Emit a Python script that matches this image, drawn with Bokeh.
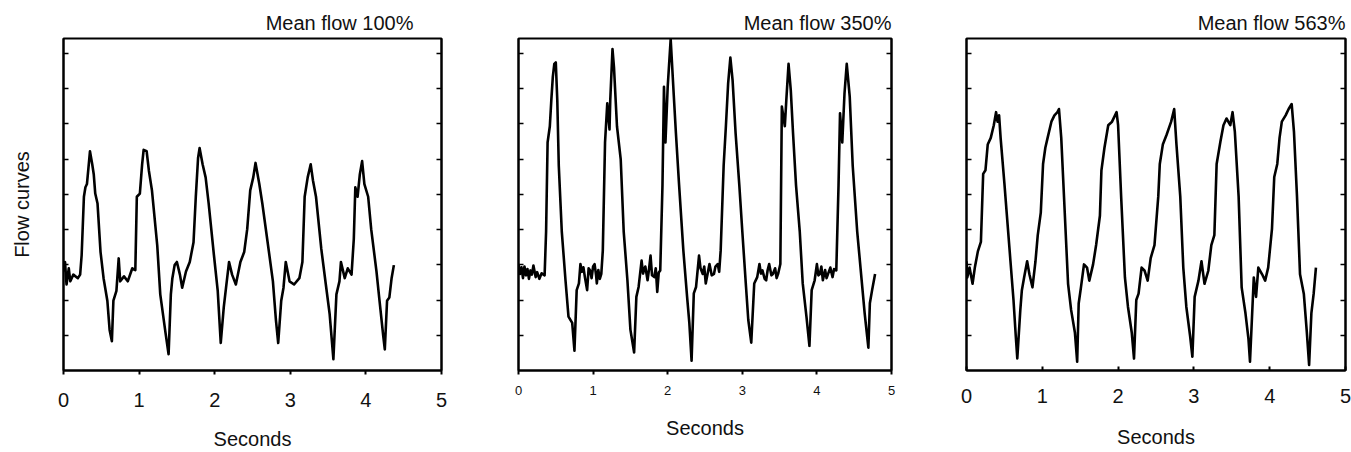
from bokeh.plotting import figure
from bokeh.models import Range1d, LinearAxis, FixedTicker
from bokeh.layouts import row
from bokeh.embed import file_html
from bokeh.resources import INLINE

# ---------------- data ----------------
titles = ["Mean flow 100%", "Mean flow 350%", "Mean flow 563%"]
x_ticks = [0, 1, 2, 3, 4, 5]
y_ticks = [1, 2, 3, 4, 5, 6, 7, 8, 9]

t1 = [0.00, 0.02, 0.04, 0.07, 0.09, 0.13, 0.19, 0.22, 0.24, 0.27, 0.29, 0.31, 0.33, 0.35, 0.38, 0.40,
      0.42, 0.45, 0.49, 0.53, 0.58, 0.61, 0.64, 0.66, 0.70, 0.73, 0.75, 0.80, 0.85, 0.91, 0.95, 0.97,
      1.01, 1.04, 1.06, 1.10, 1.13, 1.17, 1.24, 1.28, 1.35, 1.39, 1.42, 1.44, 1.47, 1.50, 1.54, 1.57,
      1.62, 1.67, 1.72, 1.75, 1.78, 1.80, 1.84, 1.88, 1.92, 1.99, 2.04, 2.08, 2.12, 2.15, 2.19, 2.23,
      2.28, 2.34, 2.39, 2.43, 2.47, 2.51, 2.54, 2.59, 2.63, 2.70, 2.77, 2.81, 2.84, 2.88, 2.91, 2.94,
      2.99, 3.05, 3.12, 3.16, 3.19, 3.23, 3.27, 3.30, 3.34, 3.41, 3.47, 3.52, 3.57, 3.61, 3.65, 3.67,
      3.72, 3.76, 3.81, 3.84, 3.86, 3.89, 3.92, 3.95, 3.98, 4.03, 4.07, 4.14, 4.18, 4.23, 4.25, 4.28,
      4.31, 4.34, 4.37]
y1 = [2.81, 3.08, 2.44, 2.90, 2.53, 2.72, 2.62, 2.72, 3.27, 4.93, 5.20, 5.29, 5.75, 6.22, 5.85, 5.57,
      5.02, 4.74, 3.36, 2.62, 1.98, 1.15, 0.83, 1.98, 2.26, 3.18, 2.53, 2.67, 2.53, 2.90, 2.85, 4.93,
      5.02, 5.85, 6.26, 6.22, 5.66, 5.11, 3.55, 2.16, 1.06, 0.46, 2.16, 2.62, 2.99, 3.08, 2.72, 2.35,
      2.81, 3.08, 3.64, 4.93, 6.03, 6.31, 5.85, 5.48, 4.74, 3.27, 2.26, 0.78, 1.80, 2.35, 3.08, 2.72,
      2.44, 3.08, 3.36, 4.01, 5.11, 5.48, 5.89, 5.29, 4.74, 3.64, 2.53, 1.43, 0.78, 1.98, 2.35, 3.08,
      2.53, 2.44, 2.62, 3.08, 4.93, 5.48, 5.85, 5.39, 4.93, 3.45, 2.44, 1.61, 0.32, 2.16, 2.53, 3.08,
      2.62, 2.90, 2.72, 3.73, 5.20, 4.93, 5.57, 5.94, 5.29, 4.93, 4.01, 2.81, 1.98, 0.97, 0.60, 1.98,
      2.07, 2.62, 2.99]

t2 = [0.00, 0.02, 0.04, 0.06, 0.08, 0.10, 0.12, 0.14, 0.16, 0.18, 0.20, 0.23, 0.25, 0.28, 0.31, 0.35,
      0.37, 0.39, 0.42, 0.44, 0.46, 0.48, 0.50, 0.52, 0.54, 0.58, 0.63, 0.67, 0.72, 0.75, 0.78, 0.81,
      0.83, 0.85, 0.87, 0.89, 0.92, 0.94, 0.96, 0.98, 1.00, 1.02, 1.04, 1.05, 1.07, 1.09, 1.11,
      1.13, 1.16, 1.19, 1.22, 1.23, 1.26, 1.28, 1.32, 1.37, 1.41, 1.46, 1.50, 1.55, 1.58, 1.61,
      1.65, 1.67, 1.68, 1.70, 1.73, 1.75, 1.77, 1.79, 1.82, 1.84, 1.86, 1.88, 1.90,
      1.93, 1.95, 1.97, 2.00, 2.04, 2.08, 2.11, 2.15, 2.21, 2.26, 2.29, 2.32, 2.35, 2.38, 2.42,
      2.44, 2.47, 2.49, 2.51, 2.54, 2.56, 2.59, 2.62, 2.64, 2.67, 2.69, 2.71,
      2.75, 2.78, 2.81, 2.84, 2.87, 2.91, 2.96, 3.00, 3.05, 3.08, 3.12, 3.16,
      3.20, 3.23, 3.25, 3.27, 3.30, 3.32, 3.34, 3.36, 3.39, 3.41, 3.44, 3.46, 3.48, 3.51,
      3.53, 3.57, 3.59, 3.62, 3.65, 3.68, 3.72, 3.77, 3.81, 3.86, 3.90, 3.93,
      3.97, 4.00, 4.02, 4.04, 4.06, 4.08, 4.11, 4.13, 4.15, 4.18, 4.21, 4.23, 4.26,
      4.29, 4.31, 4.34, 4.37, 4.40, 4.44, 4.48, 4.54, 4.60, 4.64, 4.69, 4.71, 4.74, 4.78]
y2 = [3.02, 2.74, 2.93, 2.62, 2.95, 2.70, 2.88, 2.60, 2.84, 2.72, 2.98, 2.65, 2.79, 2.60, 2.76, 2.70,
      3.95, 6.47, 6.93, 7.67, 8.33, 8.70, 8.74, 7.67, 5.81, 3.95, 2.56, 1.53, 1.35, 0.56, 2.28, 2.47,
      3.02, 2.80, 2.93, 2.65, 2.28, 2.90, 2.84, 2.62, 2.95, 3.02, 2.70, 2.47, 2.85, 2.60, 2.74,
      3.40, 6.47, 7.58, 6.84, 7.67, 9.12, 8.60, 6.93, 6.00, 3.95, 2.56, 1.16, 0.51, 2.09, 2.37,
      3.12, 2.75, 2.84, 2.95, 2.56, 2.88, 3.26, 2.70, 2.65, 2.90, 2.23, 2.78, 2.84,
      5.26, 8.05, 6.47, 8.05, 9.40, 7.86, 6.74, 5.35, 3.40, 2.09, 1.35, 0.28, 2.19, 2.37, 3.26,
      2.90, 2.74, 2.95, 2.47, 2.80, 3.02, 2.70, 2.74, 2.95, 3.02, 2.80, 3.40,
      5.81, 6.93, 8.14, 8.88, 8.23, 6.74, 5.26, 3.95, 2.37, 1.44, 0.79, 2.47,
      2.65, 3.02, 2.75, 2.84, 2.60, 2.56, 2.85, 3.02, 2.70, 2.74, 2.90, 2.62, 2.74, 3.02,
      7.49, 6.93, 7.67, 8.70, 7.95, 6.74, 5.26, 3.95, 2.47, 1.53, 0.70, 2.28,
      2.56, 3.02, 2.70, 2.74, 2.95, 2.56, 2.85, 2.62, 2.74, 2.92, 2.65, 2.88, 2.84,
      5.26, 7.30, 6.47, 7.86, 8.70, 7.77, 5.81, 3.95, 2.56, 1.63, 0.65, 1.91, 2.28, 2.74]

t3 = [0.00, 0.01, 0.04, 0.08, 0.11, 0.15, 0.19, 0.21, 0.22, 0.25, 0.28, 0.32, 0.36, 0.39, 0.41, 0.43,
      0.45, 0.50, 0.53, 0.58, 0.62, 0.65, 0.67, 0.71, 0.73, 0.76, 0.80, 0.83, 0.87, 0.91, 0.94, 0.98,
      1.01, 1.04, 1.07, 1.12, 1.16, 1.20, 1.22, 1.25, 1.29, 1.34, 1.38, 1.43, 1.46, 1.48, 1.51, 1.55,
      1.59, 1.62, 1.67, 1.71, 1.76, 1.78, 1.82, 1.87, 1.92, 1.98, 2.00, 2.04, 2.09, 2.13, 2.18, 2.21,
      2.24, 2.27, 2.31, 2.35, 2.39, 2.43, 2.48, 2.53, 2.55, 2.59, 2.64, 2.70, 2.74, 2.77, 2.82, 2.86,
      2.90, 2.95, 2.98, 3.01, 3.06, 3.10, 3.14, 3.19, 3.23, 3.27, 3.30, 3.35, 3.39, 3.43, 3.48, 3.51,
      3.54, 3.59, 3.63, 3.68, 3.72, 3.74, 3.79, 3.82, 3.85, 3.90, 3.94, 3.98, 4.03, 4.06, 4.10, 4.13,
      4.16, 4.21, 4.25, 4.29, 4.32, 4.36, 4.40, 4.45, 4.49, 4.52, 4.55, 4.58, 4.61]
y3 = [3.10, 2.64, 2.92, 2.46, 2.92, 3.38, 3.65, 4.94, 5.58, 5.68, 6.41, 6.60, 6.96, 7.33, 7.06, 7.24,
      6.60, 5.31, 4.48, 3.10, 2.00, 0.98, 0.34, 1.72, 2.27, 2.64, 3.10, 2.73, 2.36, 3.10, 3.84, 4.48,
      5.86, 6.32, 6.60, 7.06, 7.24, 7.33, 7.42, 6.60, 4.76, 2.46, 1.72, 1.08, 0.25, 1.90, 2.36, 3.01,
      2.92, 2.55, 3.01, 3.56, 4.39, 5.68, 6.32, 6.96, 7.06, 7.33, 6.96, 4.94, 2.64, 1.81, 1.08, 0.34,
      2.00, 2.18, 2.92, 2.83, 2.55, 3.19, 3.56, 4.94, 5.86, 6.41, 6.69, 7.06, 7.42, 6.41, 4.94, 2.92,
      1.81, 0.98, 0.39, 2.09, 2.55, 3.10, 2.46, 2.83, 3.56, 3.84, 5.86, 6.50, 6.96, 7.15, 6.96, 7.33,
      6.78, 4.94, 2.36, 1.63, 0.89, 0.25, 2.64, 2.09, 2.92, 2.73, 2.55, 2.92, 4.02, 5.49, 5.86, 6.60,
      7.06, 7.24, 7.42, 7.56, 6.78, 4.94, 2.73, 2.18, 1.08, 0.16, 1.63, 2.18, 2.92]

FONT = "Liberation Sans"


def hide_labels(axis):
    axis.major_label_text_font_size = "1px"
    axis.major_label_text_color = None
    axis.major_label_standoff = 0


def panel(t, y, title, width, height, bl, br, bt, bb, tick_size, ylabel=None,
          title_offset=0, xtick_in=0, xtick_out=4, label_standoff=12, axis_standoff=14):
    p = figure(width=width, height=height, output_backend="svg", toolbar_location=None,
               x_range=Range1d(0, 5), y_range=Range1d(0, 9.42),
               min_border_left=bl, min_border_right=br, min_border_top=bt, min_border_bottom=bb)
    p.grid.visible = False
    p.background_fill_color = "white"
    p.border_fill_color = "white"
    p.outline_line_color = "black"
    p.outline_line_width = 2

    p.line(t, y, line_color="black", line_width=2.6, line_join="round")

    # title
    p.title.text = title
    p.title.align = "right"
    p.title.offset = title_offset
    p.title.text_font = FONT
    p.title.text_font_size = "20px"
    p.title.text_font_style = "normal"
    p.title.text_color = "#111111"
    p.title.standoff = 9

    # x axis
    xa = p.xaxis[0]
    xa.ticker = FixedTicker(ticks=x_ticks)
    xa.minor_tick_line_color = None
    xa.major_tick_in = xtick_in
    xa.major_tick_out = xtick_out
    xa.major_tick_line_width = 2
    xa.axis_line_width = 2
    xa.major_label_text_font = FONT
    xa.major_label_text_font_size = tick_size
    xa.major_label_text_color = "#111111"
    xa.major_label_standoff = label_standoff
    xa.axis_label = "Seconds"
    xa.axis_label_text_font = FONT
    xa.axis_label_text_font_size = "20px"
    xa.axis_label_text_font_style = "normal"
    xa.axis_label_text_color = "#111111"
    xa.axis_label_standoff = axis_standoff

    # y axis (left), ticks only
    ya = p.yaxis[0]
    ya.ticker = FixedTicker(ticks=y_ticks)
    ya.minor_tick_line_color = None
    ya.major_tick_in = 5
    ya.major_tick_out = 0
    ya.major_tick_line_width = 1.5
    ya.axis_line_width = 2
    hide_labels(ya)
    if ylabel:
        ya.axis_label = ylabel
        ya.axis_label_text_font = FONT
        ya.axis_label_text_font_size = "20px"
        ya.axis_label_text_font_style = "normal"
        ya.axis_label_text_color = "#111111"
        ya.axis_label_standoff = 31

    # right axis with inner ticks
    ra = LinearAxis(ticker=FixedTicker(ticks=y_ticks))
    ra.minor_tick_line_color = None
    ra.major_tick_in = 5
    ra.major_tick_out = 0
    ra.major_tick_line_width = 1.5
    ra.axis_line_width = 2
    hide_labels(ra)
    p.add_layout(ra, "right")
    return p


p1 = panel(t1, y1, titles[0], 480, 452, 63, 39, 37, 74, "20px", ylabel="Flow curves",
           title_offset=28, xtick_in=0, xtick_out=4, label_standoff=18, axis_standoff=18)
p2 = panel(t2, y2, titles[1], 448, 452, 38, 37, 38, 77, "13px",
           title_offset=0, xtick_in=0, xtick_out=4, label_standoff=11, axis_standoff=19)
p3 = panel(t3, y3, titles[2], 423, 452, 38, 6, 36, 73, "20px",
           title_offset=0, xtick_in=4, xtick_out=0, label_standoff=18, axis_standoff=20)

layout = row(p1, p2, p3)
open("out.html", "w").write(file_html(layout, INLINE))
